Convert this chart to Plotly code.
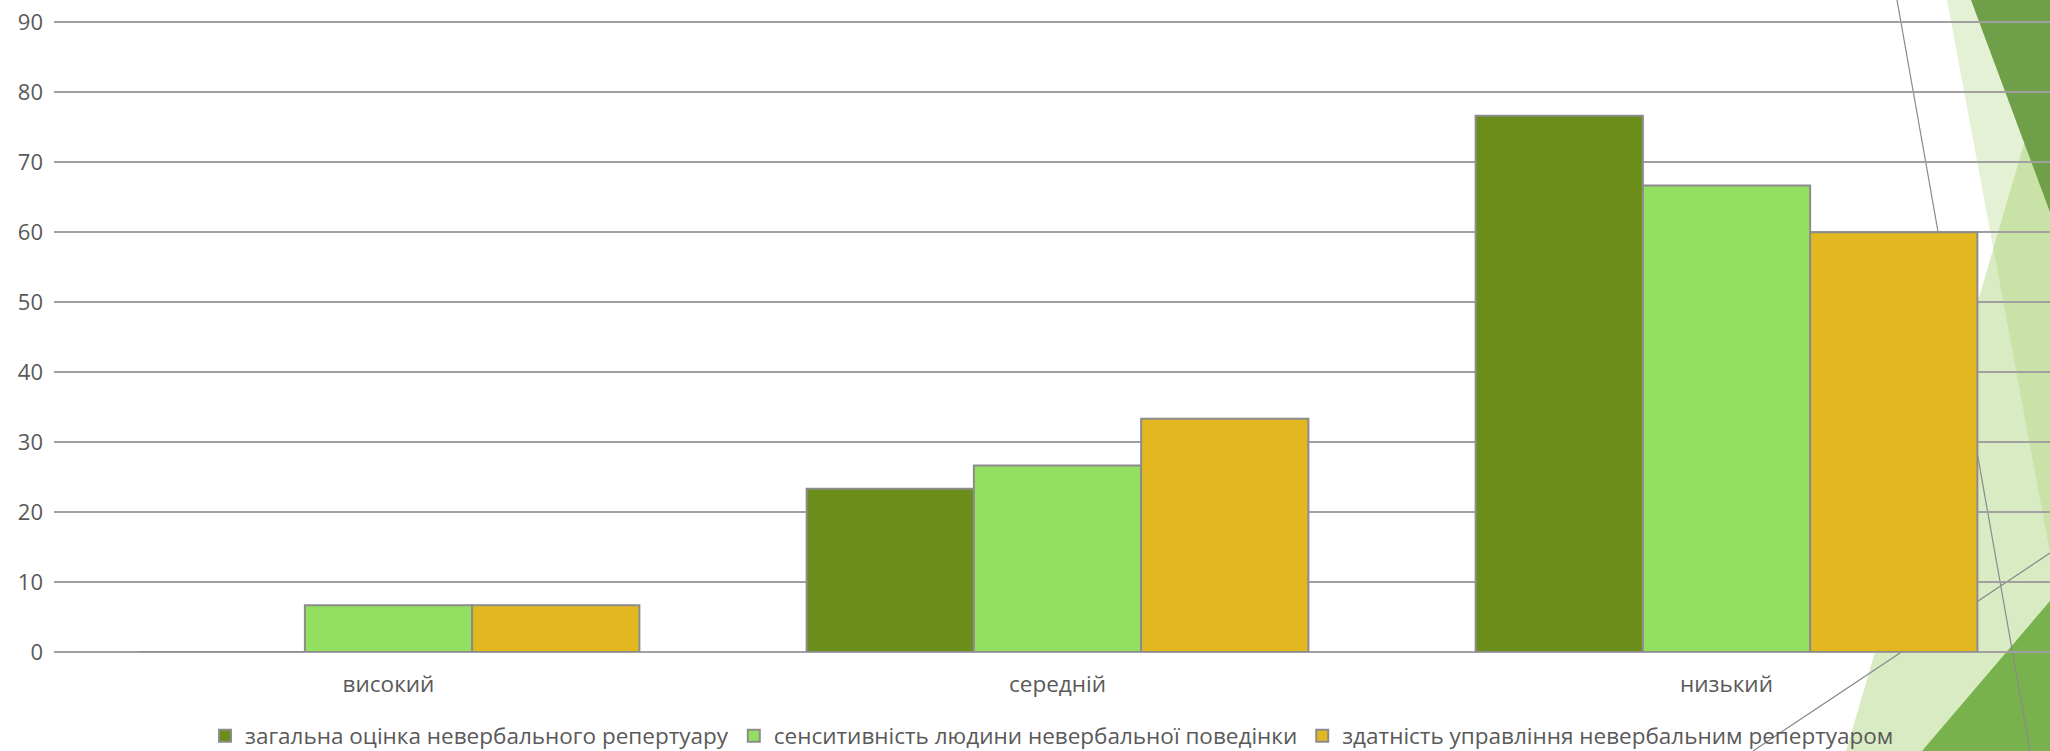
import plotly.graph_objects as go

# ---- data ----
categories = ["високий", "середній", "низький"]
series_names = [
    "загальна оцінка невербального репертуару",
    "сенситивність людини невербальної поведінки",
    "здатність управління невербальним репертуаром",
]
values_general = [0, 23.33, 76.67]
values_sensitivity = [6.67, 26.67, 66.67]
values_management = [6.67, 33.33, 60.0]
y_ticks = [0, 10, 20, 30, 40, 50, 60, 70, 80, 90]

colors = ["#6B8E1B", "#93DF62", "#E3B720"]

W, H = 2050, 751
Y_TOP = 90.2
ML, MR, MT, MB = 54, 0, 21, 99
PW, PH = W - ML - MR, H - MT - MB


def px(x, y):
    """pixel -> paper coordinates"""
    return (x - ML) / PW, (H - MB - y) / PH


def poly(points):
    parts = []
    for i, (x, y) in enumerate(points):
        a, b = px(x, y)
        parts.append(("M" if i == 0 else "L") + f"{a:.5f},{b:.5f}")
    return " ".join(parts) + " Z"


fig = go.Figure()
for name, vals, col in zip(series_names,
                           [values_general, values_sensitivity, values_management],
                           colors):
    fig.add_trace(go.Bar(
        x=categories, y=vals, name=name,
        marker=dict(color=col, line=dict(color="#8C8C8C", width=2)),
        hoverinfo="x+y+name",
    ))

font = "Open Sans, Noto Sans, sans-serif"

shapes = []
# pale band
shapes.append(dict(type="path", xref="paper", yref="paper", layer="below",
                   path=poly([(1947, 0), (2200, 0), (2200, 751), (2087, 751)]),
                   fillcolor="rgba(145,195,80,0.24)", line=dict(width=0)))
# translucent triangle rising from bottom
shapes.append(dict(type="path", xref="paper", yref="paper", layer="below",
                   path=poly([(1846, 751), (2075, -30), (2200, -30), (2200, 751)]),
                   fillcolor="rgba(145,195,80,0.34)", line=dict(width=0)))
# dark green top-right triangle
shapes.append(dict(type="path", xref="paper", yref="paper", layer="below",
                   path=poly([(1971, 0), (2200, 0), (2200, 615)]),
                   fillcolor="#6F9F49", line=dict(width=0)))
# bottom-right green triangle
shapes.append(dict(type="path", xref="paper", yref="paper", layer="below",
                   path=poly([(1922, 751), (2200, 425), (2200, 751)]),
                   fillcolor="#79B24C", line=dict(width=0)))
# thin lines
for (x0, y0, x1, y1) in [(1897, 0, 2030, 751), (1753, 751, 2050, 553)]:
    a0, b0 = px(x0, y0)
    a1, b1 = px(x1, y1)
    shapes.append(dict(type="line", xref="paper", yref="paper", layer="below",
                       x0=a0, y0=b0, x1=a1, y1=b1,
                       line=dict(color="#8A8A8A", width=1.2)))

fig.update_layout(
    width=W, height=H,
    margin=dict(l=ML, r=MR, t=MT, b=MB, pad=0, autoexpand=False),
    paper_bgcolor="white",
    plot_bgcolor="rgba(0,0,0,0)",
    barmode="group",
    bargap=0.25,
    bargroupgap=0,
    font=dict(family=font, size=22, color="#595959"),
    showlegend=True,
    legend=dict(orientation="h", x=0.5, xanchor="center", xref="paper",
                y=px(0, 736)[1], yanchor="middle",
                font=dict(family=font, size=22.5, color="#595959"),
                bgcolor="rgba(0,0,0,0)", itemclick=False, itemdoubleclick=False,
                tracegroupgap=0),
    shapes=shapes,
    xaxis=dict(
        type="category",
        categoryorder="array", categoryarray=categories,
        range=[-0.5, -0.5 + PW / 669.0],
        showgrid=False, showline=False, zeroline=False,
        ticks="", ticklabelstandoff=16, automargin=False,
        tickfont=dict(family=font, size=22.5, color="#595959"),
        fixedrange=True,
    ),
    yaxis=dict(
        range=[0, Y_TOP],
        tickmode="array", tickvals=y_ticks, ticktext=[str(v) for v in y_ticks],
        showgrid=True, gridcolor="#A0A0A0", gridwidth=2,
        zeroline=True, zerolinecolor="#A0A0A0", zerolinewidth=2,
        showline=False, ticks="", ticklabelstandoff=10, automargin=False,
        tickfont=dict(family=font, size=22, color="#595959"),
        fixedrange=True,
    ),
)

fig.write_html(
    "out.html",
    config={"displayModeBar": False},
    post_script="document.body.style.margin='0px';document.body.style.overflow='hidden';",
)
